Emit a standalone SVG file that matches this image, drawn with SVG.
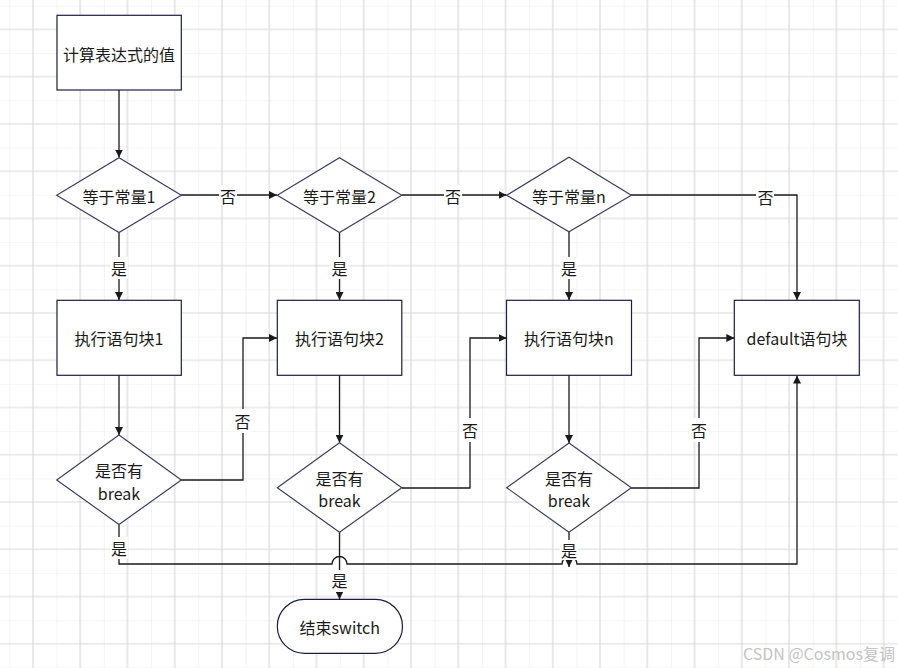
<svg xmlns="http://www.w3.org/2000/svg" width="898" height="668" viewBox="0 0 898 668">
<defs>
<pattern id="grid" x="9.3" y="5.8" width="47.26" height="47.26" patternUnits="userSpaceOnUse">
<path d="M0 0 H47.26 M0 0 V47.26" stroke="#ececec" stroke-width="1.2" fill="none"/>
<path d="M0 23.63 H47.26 M23.63 0 V47.26" stroke="#d9d9d9" stroke-width="1.2" fill="none"/>
</pattern>
<marker id="arr" viewBox="0 0 10 10" refX="10" refY="5" markerWidth="8" markerHeight="8" markerUnits="userSpaceOnUse" orient="auto">
<path d="M0 0 L10 5 L0 10 z" fill="#1a1a1a"/>
</marker>
<style>
.box{fill:#fff;stroke:#1b1e45;stroke-width:1.2}
.dia{fill:#fff;stroke:#3b4063;stroke-width:1.2}
.t{font-family:"Microsoft YaHei","Noto Sans CJK SC","Noto Sans",sans-serif;font-size:16px;fill:#1a1a1a;text-anchor:middle;dominant-baseline:central}
.c{fill:none;stroke:#1a1a1a;stroke-width:1.3}
.lb{fill:#fff}
.wm{font-family:"Microsoft YaHei","Noto Sans CJK SC","Noto Sans",sans-serif;font-size:16px;fill:#c4c4c4;text-anchor:end;dominant-baseline:central}
</style>
</defs>
<rect width="898" height="668" fill="#fff"/>
<rect width="898" height="668" fill="url(#grid)"/>

<g id="connectors">
<path class="c" d="M119 90 V157.5" marker-end="url(#arr)"/>
<path class="c" d="M181 195 H277" marker-end="url(#arr)"/>
<path class="c" d="M402 195 H506.5" marker-end="url(#arr)"/>
<path class="c" d="M631 195 H797 V300" marker-end="url(#arr)"/>
<path class="c" d="M119 232.5 V300" marker-end="url(#arr)"/>
<path class="c" d="M339.5 232.5 V300" marker-end="url(#arr)"/>
<path class="c" d="M569 232 V300" marker-end="url(#arr)"/>
<path class="c" d="M119 375 V435" marker-end="url(#arr)"/>
<path class="c" d="M339.5 375 V442.7" marker-end="url(#arr)"/>
<path class="c" d="M569 375 V443" marker-end="url(#arr)"/>
<path class="c" d="M181 480 H243 V338 H277" marker-end="url(#arr)"/>
<path class="c" d="M402 488 H470 V338 H506.5" marker-end="url(#arr)"/>
<path class="c" d="M631 488 H699 V338 H734.3" marker-end="url(#arr)"/>
<path class="c" d="M119 524.5 V564 H332 A7.5 7.5 0 0 1 347 564 H562 A7.5 7.5 0 0 1 577 564 H797 V375.5" marker-end="url(#arr)"/>
<path class="c" d="M339.5 532 V599.3" marker-end="url(#arr)"/>
<path class="c" d="M569 532 V567" marker-end="url(#arr)"/>
<g id="labels">
<rect class="lb" x="219" y="185" width="18" height="20"/><text class="t" x="228" y="196">否</text>
<rect class="lb" x="444" y="185" width="18" height="20"/><text class="t" x="453" y="196">否</text>
<rect class="lb" x="756" y="187" width="18" height="20"/><text class="t" x="765.5" y="197">否</text>
<rect class="lb" x="110" y="257" width="18" height="22"/><text class="t" x="119" y="268">是</text>
<rect class="lb" x="330.5" y="257" width="18" height="22"/><text class="t" x="339.5" y="268">是</text>
<rect class="lb" x="560" y="257" width="18" height="22"/><text class="t" x="569" y="268">是</text>
<rect class="lb" x="234" y="409" width="18" height="24"/><text class="t" x="242.5" y="421">否</text>
<rect class="lb" x="461" y="418" width="18" height="24"/><text class="t" x="470" y="430">否</text>
<rect class="lb" x="690" y="418" width="18" height="24"/><text class="t" x="699" y="430">否</text>
<rect class="lb" x="110" y="537" width="18" height="22"/><text class="t" x="119" y="548">是</text>
<rect class="lb" x="330.5" y="570" width="18" height="22"/><text class="t" x="339.5" y="580">是</text>
<rect class="lb" x="560" y="540" width="18" height="20"/><text class="t" x="569" y="550">是</text>
</g>
</g>

<g id="n_start"><rect class="box" x="57" y="15.3" width="124.3" height="74.7"/><text class="t" x="119" y="54">计算表达式的值</text></g>
<g id="n_eq1"><polygon class="dia" points="56.7,195.3 119,157.7 181.3,195.3 119,232.5"/><text class="t" x="119" y="196">等于常量1</text></g>
<g id="n_eq2"><polygon class="dia" points="277.3,195.3 339.5,157.7 401.8,195.3 339.5,232.5"/><text class="t" x="339.5" y="196">等于常量2</text></g>
<g id="n_eqn"><polygon class="dia" points="506.7,195.3 569,157.3 631.3,195.3 569,231.7"/><text class="t" x="569" y="196">等于常量n</text></g>
<g id="n_b1"><rect class="box" x="57" y="300.3" width="124.3" height="75"/><text class="t" x="119" y="338">执行语句块1</text></g>
<g id="n_b2"><rect class="box" x="277.3" y="300.3" width="124.5" height="75"/><text class="t" x="339.5" y="338">执行语句块2</text></g>
<g id="n_bn"><rect class="box" x="506.5" y="300.3" width="125" height="75"/><text class="t" x="569" y="338">执行语句块n</text></g>
<g id="n_def"><rect class="box" x="734.3" y="300.3" width="125" height="75"/><text class="t" x="797" y="338">default语句块</text></g>
<g id="n_k1"><polygon class="dia" points="56.7,480 119,435 181.3,480 119,524.5"/><text class="t" x="119" y="470">是否有</text><text class="t" x="119" y="492.5">break</text></g>
<g id="n_k2"><polygon class="dia" points="277.3,487.7 339.5,442.7 401.8,487.7 339.5,532.3"/><text class="t" x="339.5" y="477.5">是否有</text><text class="t" x="339.5" y="500">break</text></g>
<g id="n_kn"><polygon class="dia" points="506.7,487.7 569,443 631.3,487.7 569,532.3"/><text class="t" x="569" y="477.5">是否有</text><text class="t" x="569" y="500">break</text></g>
<g id="n_end"><rect class="box" x="277.3" y="599.3" width="125.2" height="54" rx="27" ry="27"/><text class="t" x="339.8" y="627">结束switch</text></g>

<text class="wm" x="895" y="653">CSDN @Cosmos复调</text>
</svg>
